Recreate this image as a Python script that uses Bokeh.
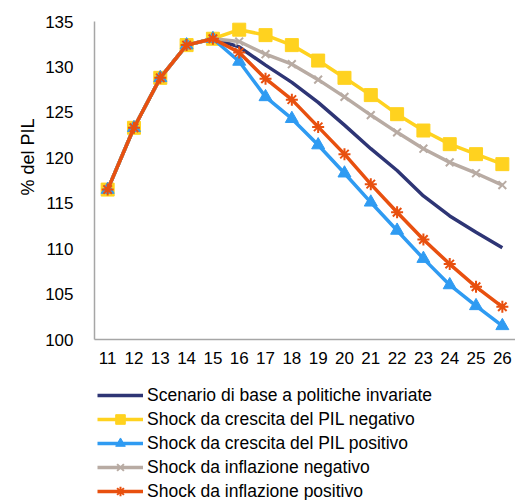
from bokeh.plotting import figure
from bokeh.models import Range1d, FixedTicker, Legend, Title
from bokeh.layouts import column
from bokeh.embed import file_html
from bokeh.resources import INLINE

years = list(range(11, 27))
tick_labels = [str(y) for y in years]

base = [116.5, 123.3, 128.8, 132.4, 133.1, 132.2, 130.2, 128.3, 126.1, 123.6, 121.0, 118.6, 115.8, 113.6, 111.8, 110.1]
pil_neg = [116.5, 123.3, 128.8, 132.4, 133.1, 134.1, 133.5, 132.4, 130.7, 128.8, 126.9, 124.8, 123.0, 121.5, 120.4, 119.3]
pil_pos = [116.5, 123.3, 128.8, 132.4, 133.1, 130.6, 126.7, 124.3, 121.4, 118.3, 115.1, 112.0, 108.9, 106.0, 103.7, 101.5]
infl_neg = [116.5, 123.3, 128.8, 132.4, 133.1, 132.8, 131.4, 130.3, 128.6, 126.7, 124.7, 122.8, 121.0, 119.5, 118.3, 117.0]
infl_pos = [116.5, 123.3, 128.8, 132.4, 133.1, 131.6, 128.7, 126.4, 123.4, 120.4, 117.1, 114.0, 111.0, 108.3, 105.8, 103.6]

names = ["Scenario di base a politiche invariate",
         "Shock da crescita del PIL negativo",
         "Shock da crescita del PIL positivo",
         "Shock da inflazione negativo",
         "Shock da inflazione positivo"]
colors = ["#2E3575", "#FFD21F", "#2F9BF2", "#B8ABA3", "#E8500F"]
FONT = "Liberation Sans"

p = figure(frame_width=421, frame_height=318, output_backend="svg", toolbar_location=None,
           x_range=Range1d(10.5, 26.5), y_range=Range1d(100, 135),
           min_border_left=94, min_border_right=0, min_border_top=21,
           min_border_bottom=42)
p.outline_line_color = None
p.xgrid.visible = False
p.ygrid.visible = False

for ax in (p.xaxis[0], p.yaxis[0]):
    ax.axis_line_color = "#A6A6A6"
    ax.axis_line_width = 1.5
    ax.major_tick_line_color = None
    ax.minor_tick_line_color = None
    ax.major_label_text_font = FONT
    ax.major_label_text_font_size = "17px"
    ax.major_label_text_color = "#000000"
p.xaxis.ticker = FixedTicker(ticks=years)
p.xaxis.major_label_overrides = {y: l for y, l in zip(years, tick_labels)}
p.xaxis.major_label_standoff = 6
p.yaxis.ticker = FixedTicker(ticks=[100, 105, 110, 115, 120, 125, 130, 135])
p.yaxis.major_label_standoff = 15

ytitle = Title(text="% del PIL", align="right", offset=97,
               text_font=FONT, text_font_size="18px", text_font_style="normal",
               text_color="#000000")
p.add_layout(ytitle, "left")


def add_series(fig, ys, k, s=1.0):
    rs = [fig.line(years, ys, line_color=colors[k], line_width=3.5)]
    if k == 1:
        rs.append(fig.scatter(years, ys, marker="square", size=13 * s, fill_color=colors[k], line_color=colors[k]))
    elif k == 2:
        rs.append(fig.scatter(years, ys, marker="triangle", size=13 * s, fill_color=colors[k], line_color=colors[k]))
    elif k == 3:
        rs.append(fig.scatter(years, ys, marker="x", size=11 * s, line_color=colors[k], line_width=2))
    elif k == 4:
        rs.append(fig.scatter(years, ys, marker="asterisk", size=12 * s, line_color=colors[k], line_width=2))
    return rs


series = [base, pil_neg, pil_pos, infl_neg, infl_pos]
for k, ys in enumerate(series):
    add_series(p, ys, k)

# legend figure below the chart (data lies outside its visible ranges)
lf = figure(width=515, height=119, output_backend="svg", toolbar_location=None,
            x_range=Range1d(0, 1), y_range=Range1d(0, 1),
            min_border_left=0, min_border_right=0, min_border_top=0, min_border_bottom=0)
lf.axis.visible = False
lf.xgrid.visible = False
lf.ygrid.visible = False
lf.outline_line_color = None
items = []
for k, ys in enumerate(series):
    items.append((names[k], add_series(lf, ys, k, s=0.7)))

legend = Legend(items=items, orientation="vertical", location=(3, -3),
                border_line_color=None, background_fill_alpha=0,
                label_text_font=FONT, label_text_font_size="17.5px",
                label_text_color="#000000",
                glyph_width=46, glyph_height=24, label_height=24,
                label_standoff=4, spacing=0, padding=0, margin=0)
lf.add_layout(legend, "center")

open("out.html", "w").write(file_html(column(p, lf), INLINE))
